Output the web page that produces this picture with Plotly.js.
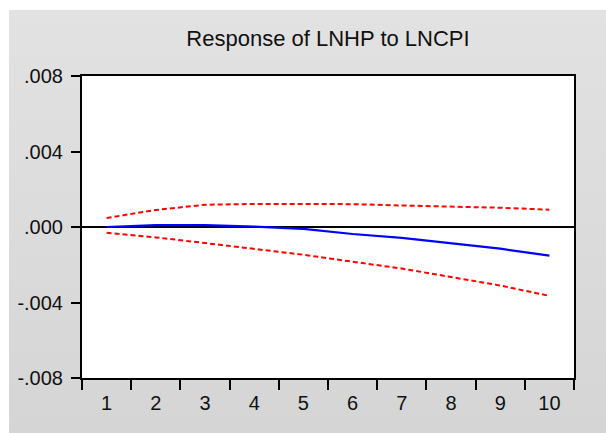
<!DOCTYPE html>
<html><head><meta charset="utf-8">
<script src="https://cdn.plot.ly/plotly-3.0.1.min.js"></script>
<style>
html,body{margin:0;padding:0;background:#fff;width:606px;height:433px;overflow:hidden}
#chart{position:absolute;left:9px;top:10px;width:597px;height:423px;background:linear-gradient(#e2e2e2,#d5d5d5)}
</style></head><body><div id="chart"></div>
<script>
const periods = ['1','2','3','4','5','6','7','8','9','10'];
const response = [0.0000, 0.0001, 0.0001, 0.00002, -0.0001, -0.00037, -0.00058, -0.00088, -0.00115, -0.00152];
const upperBand = [0.00048, 0.0009, 0.00118, 0.00122, 0.00122, 0.00121, 0.00114, 0.0011, 0.00102, 0.00092];
const lowerBand = [-0.0003, -0.00055, -0.00085, -0.00116, -0.00147, -0.00184, -0.0022, -0.00265, -0.0031, -0.00365];
const yTickVals = [-0.008, -0.004, 0, 0.004, 0.008];
const yTickText = ['-.008', '-.004', '.000', '.004', '.008'];
const chartTitle = 'Response of LNHP to LNCPI';

const font = {family: '"Liberation Sans", Arial, sans-serif', size: 20, color: '#111'};
const traces = [
  {x: periods, y: upperBand, type: 'scatter', mode: 'lines', line: {color: '#ff0000', width: 2, dash: '5px,3px'}, hoverinfo: 'skip'},
  {x: periods, y: lowerBand, type: 'scatter', mode: 'lines', line: {color: '#ff0000', width: 2, dash: '5px,3px'}, hoverinfo: 'skip'},
  {x: periods, y: response, type: 'scatter', mode: 'lines', line: {color: '#0000ff', width: 2.2}, hoverinfo: 'skip'}
];
const layout = {
  width: 597, height: 423,
  margin: {l: 73, r: 32, t: 66, b: 55},
  paper_bgcolor: 'rgba(0,0,0,0)',
  plot_bgcolor: '#ffffff',
  showlegend: false,
  font: font,
  title: {text: chartTitle, font: {family: font.family, size: 22, color: '#111'}, x: 0.5, xanchor: 'center', xref: 'paper', y: 0.933, yanchor: 'middle', yref: 'container'},
  xaxis: {
    type: 'category', range: [-0.5, 9.5], tickson: 'boundaries',
    ticks: 'outside', ticklen: 10, tickwidth: 2, tickcolor: '#000',
    showline: true, linecolor: '#000', linewidth: 2, mirror: true,
    showgrid: false, zeroline: false, tickfont: font, ticklabelstandoff: 6
  },
  yaxis: {
    range: [-0.008, 0.008], tickvals: yTickVals, ticktext: yTickText,
    ticks: 'outside', ticklen: 9, tickwidth: 2, tickcolor: '#000',
    showline: true, linecolor: '#000', linewidth: 2, mirror: true,
    showgrid: false, zeroline: true, zerolinecolor: '#000', zerolinewidth: 2,
    tickfont: font, ticklabelstandoff: 4
  }
};
Plotly.newPlot('chart', traces, layout, {displayModeBar: false, staticPlot: true});
</script></body></html>
